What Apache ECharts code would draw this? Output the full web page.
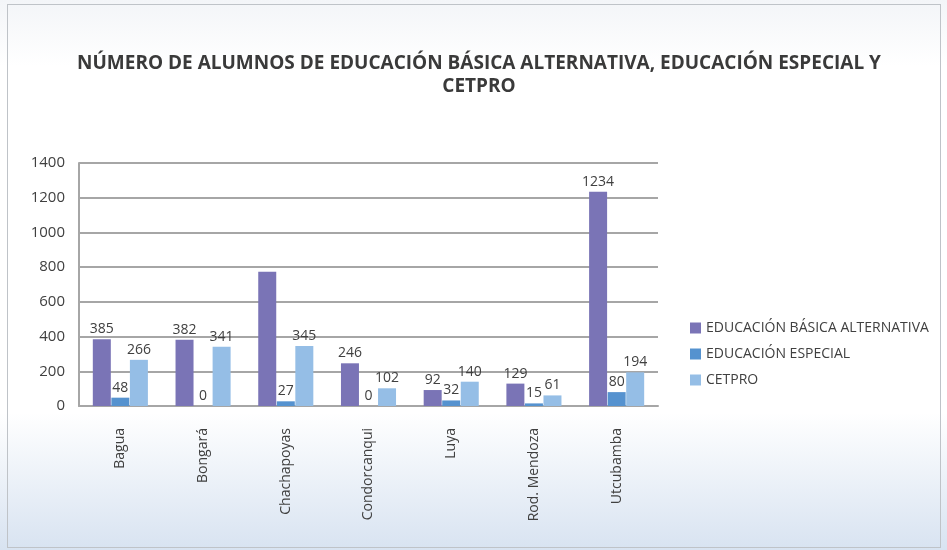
<!DOCTYPE html>
<html>
<head>
<meta charset="utf-8">
<script src="https://cdn.jsdelivr.net/npm/echarts@6/dist/echarts.min.js"></script>
<style>
  html, body { margin: 0; padding: 0; }
  body {
    width: 947px; height: 550px;
    background: linear-gradient(to bottom, #f3f5f8 0%, #ffffff 12%, #ffffff 75%, #d8e3f1 100%);
  }
  #chart { position: absolute; left: 7px; top: 4px; width: 934px; height: 544px; border: 1px solid #bfc3c8; box-sizing: border-box; }
</style>
</head>
<body>
<div id="chart"></div>
<script>
// datos
var provincias = ['Bagua', 'Bongará', 'Chachapoyas', 'Condorcanqui', 'Luya', 'Rod. Mendoza', 'Utcubamba'];
var basicaAlternativa = [385, 382, 773, 246, 92, 129, 1234];
var educEspecial = [48, 0, 27, 0, 32, 15, 80];
var cetpro = [266, 341, 345, 102, 140, 61, 194];
// etiquetas que no aparecen en el grafico original
var sinEtiquetaBasica = ['Chachapoyas'];

var colores = ['#7a74b6', '#5592cf', '#95bee6'];

function armarDatos(valores, ocultos) {
  return valores.map(function (v, i) {
    var item = { value: v };
    if (ocultos && ocultos.indexOf(provincias[i]) >= 0) {
      item.label = { show: false };
    }
    return item;
  });
}

var chart = echarts.init(document.getElementById('chart'));

var etiqueta = {
  show: true,
  position: 'top',
  distance: 3,
  color: '#404040',
  fontSize: 14,
  fontFamily: 'Open Sans'
};

var option = {
  animation: false,
  color: colores,
  textStyle: { fontFamily: 'Open Sans' },
  title: {
    text: 'NÚMERO DE ALUMNOS DE EDUCACIÓN BÁSICA ALTERNATIVA, EDUCACIÓN ESPECIAL Y\nCETPRO',
    left: 466,
    top: 42,
    textAlign: 'center',
    textStyle: {
      fontSize: 19,
      fontWeight: 'bold',
      color: '#3a3a3a',
      lineHeight: 23,
      fontFamily: 'Open Sans',
      align: 'center'
    }
  },
  legend: {
    orient: 'vertical',
    left: 677,
    top: 311,
    itemWidth: 11,
    itemHeight: 11,
    itemGap: 12,
    icon: 'rect',
    textStyle: { fontSize: 14, color: '#404040', fontFamily: 'Open Sans' },
    data: ['EDUCACIÓN BÁSICA ALTERNATIVA', 'EDUCACIÓN ESPECIAL', 'CETPRO']
  },
  grid: {
    left: 71,
    right: 282,
    top: 158,
    bottom: 141
  },
  xAxis: {
    type: 'category',
    data: provincias,
    axisLine: { show: true, lineStyle: { color: '#a6a6a6', width: 2 } },
    axisTick: { show: false },
    axisLabel: {
      rotate: 90,
      margin: 22,
      fontSize: 14,
      color: '#404040',
      fontFamily: 'Open Sans'
    }
  },
  yAxis: {
    type: 'value',
    min: 0,
    max: 1400,
    interval: 200,
    axisLine: { show: true, lineStyle: { color: '#a6a6a6', width: 2 } },
    axisTick: { show: false },
    axisLabel: {
      fontSize: 15, color: '#404040', margin: 14, fontFamily: 'Open Sans',
      formatter: function (v) { return String(v); }
    },
    splitLine: { lineStyle: { color: '#a6a6a6', width: 2 } }
  },
  series: [
    {
      name: 'EDUCACIÓN BÁSICA ALTERNATIVA',
      type: 'bar',
      barWidth: 18,
      barGap: '3%',
      data: armarDatos(basicaAlternativa, sinEtiquetaBasica),
      label: etiqueta
    },
    {
      name: 'EDUCACIÓN ESPECIAL',
      type: 'bar',
      barWidth: 18,
      barGap: '3%',
      data: armarDatos(educEspecial),
      label: etiqueta
    },
    {
      name: 'CETPRO',
      type: 'bar',
      barWidth: 18,
      barGap: '3%',
      data: armarDatos(cetpro),
      label: etiqueta
    }
  ]
};

chart.setOption(option);
</script>
</body>
</html>
